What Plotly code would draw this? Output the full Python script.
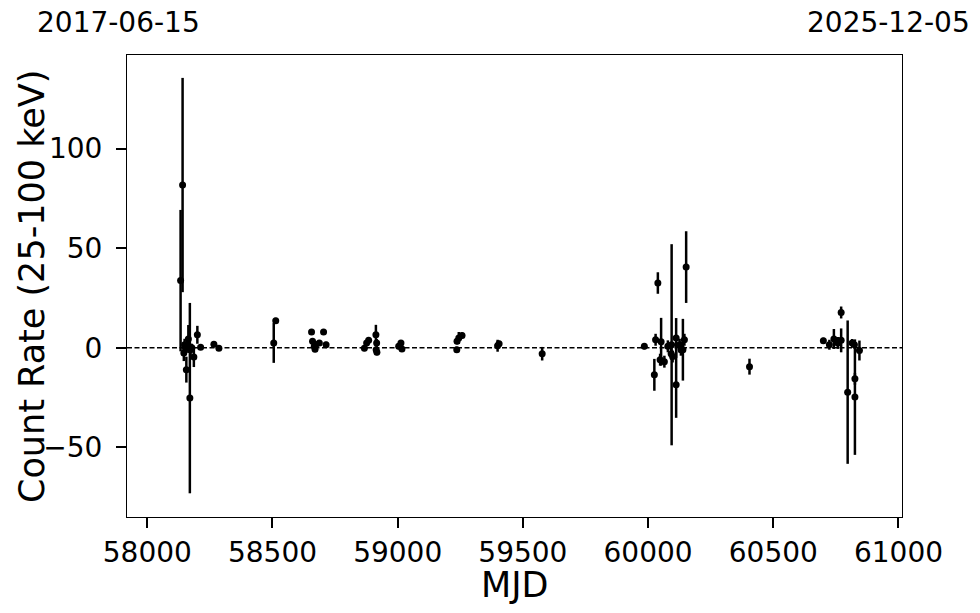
import plotly.graph_objects as go

# ---- data (MJD, count rate 25-100 keV, 1-sigma error) ----
mjd = [
    58133, 58141, 58146, 58149, 58153, 58156, 58160, 58164, 58170, 58173,
    58178, 58186, 58200, 58213, 58266, 58286,
    58505, 58513, 58656, 58660, 58667, 58670, 58673, 58687, 58704, 58714,
    58867, 58876, 58884, 58913, 58916, 58914, 58917, 59004, 59013, 59017,
    59236, 59237, 59244, 59257, 59399, 59405, 59577,
    59985, 60025, 60030, 60039, 60048, 60052, 60065, 60079, 60092, 60094,
    60098, 60112, 60112, 60126, 60131, 60139, 60145, 60152,
    60405, 60700, 60724, 60742, 60758, 60771, 60771, 60797, 60815, 60824,
    60826, 60826, 60844,
]
rate = [
    33.7, 81.7, -2.7, 1.5, -0.2, -11.0, 1.5, 4.4, -25.3, -1.0,
    0.0, -4.7, 6.5, 0.3, 1.8, -0.3,
    2.4, 13.5, 7.9, 3.2, 0.7, -0.7, 1.5, 2.4, 7.9, 1.5,
    -0.2, 2.4, 3.7, 6.5, 2.4, -1.0, -2.3, 0.7, 2.4, -0.6,
    -1.0, 3.2, 4.9, 6.2, 1.0, 2.0, -3.0,
    0.7, -13.6, 4.0, 32.5, -6.0, 3.0, -7.0, 0.7, -3.0, 1.5,
    -4.4, 4.9, -18.6, 1.5, -1.0, -1.0, 4.0, 40.5,
    -9.5, 3.5, 1.5, 4.4, 2.4, 17.7, 3.7, -22.3, 2.4, 1.5,
    -15.6, -24.8, -1.4,
]
err = [
    35.5, 53.8, 4.0, 3.0, 3.0, 6.5, 2.0, 7.0, 47.8, 3.0,
    2.0, 5.0, 4.5, 1.0, 1.0, 1.0,
    10.0, 1.5, 1.5, 1.5, 1.5, 1.5, 1.5, 1.5, 1.5, 1.5,
    1.5, 1.5, 1.5, 5.0, 2.0, 1.5, 1.5, 1.5, 1.5, 1.5,
    1.5, 1.5, 3.0, 1.5, 3.0, 1.5, 3.4,
    1.5, 8.0, 3.0, 5.4, 3.0, 12.0, 3.0, 3.0, 3.0, 50.5,
    3.0, 10.0, 16.6, 3.0, 3.0, 15.5, 3.0, 18.0,
    4.0, 1.5, 2.5, 5.0, 3.0, 3.0, 6.0, 36.0, 2.0, 2.0,
    3.0, 29.0, 5.0,
]

x_ticks = [58000, 58500, 59000, 59500, 60000, 60500, 61000]
y_ticks = [-50, 0, 50, 100]
x_range = [57919, 61014]
y_range = [-85, 147]
date_labels = ["2017-06-15", "2025-12-05"]
x_title = "MJD"
y_title = "Count Rate (25-100 keV)"

FONT = "DejaVu Sans"

fig = go.Figure()
fig.add_trace(go.Scatter(
    x=mjd, y=rate, mode="markers",
    marker=dict(color="black", size=7),
    error_y=dict(type="data", array=err, visible=True, color="black",
                 thickness=2.5, width=0),
    showlegend=False,
))

fig.add_shape(type="line", xref="paper", yref="y", x0=0, x1=1, y0=0, y1=0,
              line=dict(color="black", width=1.5, dash="5px,2.5px"))

fig.add_annotation(text=date_labels[0], xref="paper", yref="paper",
                   x=-0.0116, y=1.071, xanchor="center", yanchor="middle",
                   showarrow=False, borderpad=0,
                   font=dict(family=FONT, size=28, color="black"))
fig.add_annotation(text=date_labels[1], xref="paper", yref="paper",
                   x=0.983, y=1.071, xanchor="center", yanchor="middle",
                   showarrow=False, borderpad=0,
                   font=dict(family=FONT, size=28, color="black"))

# axis titles as annotations
fig.add_annotation(text=y_title, xref="paper", yref="paper",
                   x=-0.1226, y=0.5, xanchor="center", yanchor="middle",
                   textangle=-90, showarrow=False, borderpad=0,
                   font=dict(family=FONT, size=35, color="black"))
fig.add_annotation(text=x_title, xref="paper", yref="paper",
                   x=0.5, y=-0.148, xanchor="center", yanchor="middle",
                   showarrow=False, borderpad=0,
                   font=dict(family=FONT, size=35, color="black"))

fig.update_layout(
    width=980, height=613,
    margin=dict(l=127, r=78, t=55, b=96),
    paper_bgcolor="white", plot_bgcolor="white",
    font=dict(family=FONT, color="black"),
)
fig.update_xaxes(
    range=x_range, tickvals=x_ticks, tickformat="d",
    ticks="outside", ticklen=10, tickwidth=2, tickcolor="black",
    tickfont=dict(family=FONT, size=28, color="black"),
    showline=True, linecolor="black", linewidth=1, mirror=True,
    showgrid=False, zeroline=False,
    automargin=False,
)
fig.update_yaxes(
    range=y_range, tickvals=y_ticks,
    ticks="outside", ticklen=10, tickwidth=2, tickcolor="black",
    tickfont=dict(family=FONT, size=28, color="black"),
    ticklabelstandoff=8,
    showline=True, linecolor="black", linewidth=1, mirror=True,
    showgrid=False, zeroline=False,
    automargin=False,
)

fig.write_html("out.html", config={"displayModeBar": False},
               post_script="document.body.style.margin='0';")
